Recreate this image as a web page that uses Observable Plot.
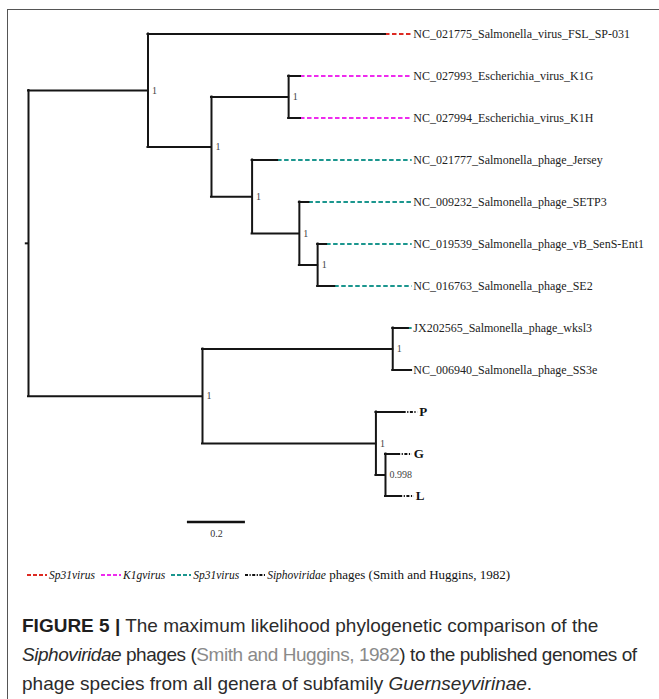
<!DOCTYPE html>
<html><head><meta charset="utf-8">
<script src="https://cdn.jsdelivr.net/npm/d3@7"></script>
<script src="https://cdn.jsdelivr.net/npm/@observablehq/plot@0.6"></script>
<style>
html,body{margin:0;padding:0;background:#fff;width:659px;height:699px;overflow:hidden;position:relative}
#frame{position:absolute;left:6.5px;top:8.5px;width:800px;height:800px;border-left:1.5px solid #555;border-top:1.5px solid #555;box-sizing:border-box}
#chart{position:absolute;left:0;top:0}
#legend{position:absolute;left:27px;top:567px;height:16px;font-family:"Liberation Serif","Times New Roman",serif;font-size:11.5px;color:#111;display:flex;align-items:center;white-space:nowrap}
#legend .item{display:flex;align-items:center;margin-right:6px}
#legend svg{display:block;margin-right:2px}
#legend .suffix{font-size:13px}
#caption{position:absolute;left:22px;top:611px;width:640px;font-family:"Liberation Sans",Arial,sans-serif;font-size:19px;line-height:29px;color:#2b2b2b;white-space:nowrap}
#caption .l{display:block}
#caption .tight{letter-spacing:-0.45px}
#caption b{color:#1e1e1e}
#caption .ref{color:#8a8a8a}
</style></head>
<body>
<div id="frame"></div>
<div id="chart"></div>
<div id="legend"></div>
<div id="caption"><span class="l"><b>FIGURE 5 |</b> The maximum likelihood phylogenetic comparison of the</span><span class="l tight"><i>Siphoviridae</i> phages (<span class="ref">Smith and Huggins, 1982</span>) to the published genomes of</span><span class="l">phage species from all genera of subfamily <i>Guernseyvirinae</i>.</span></div>
<script>
// ---- Tree data (branch positions in substitutions/site from root) ----
const internalIds     = ["n0","n1","n2","n3","n4","n5","n6","n7","n8","n9","n10"];
const internalParent  = [null,"n0","n1","n2","n2","n4","n5","n0","n7","n7","n9"];
const internalDepth   = [0, 0.412, 0.631, 0.897, 0.771, 0.934, 0.997, 0.600, 1.256, 1.198, 1.231];
const internalSupport = ["", "1", "1", "1", "1", "1", "1", "1", "1", "1", "0.998"];

const leafNames = [
  "NC_021775_Salmonella_virus_FSL_SP-031",
  "NC_027993_Escherichia_virus_K1G",
  "NC_027994_Escherichia_virus_K1H",
  "NC_021777_Salmonella_phage_Jersey",
  "NC_009232_Salmonella_phage_SETP3",
  "NC_019539_Salmonella_phage_vB_SenS-Ent1",
  "NC_016763_Salmonella_phage_SE2",
  "JX202565_Salmonella_phage_wksl3",
  "NC_006940_Salmonella_phage_SS3e",
  "P", "G", "L"
];
const leafParent = ["n1","n3","n3","n4","n5","n6","n6","n8","n8","n9","n10","n10"];
const leafDepth  = [1.231, 0.938, 0.938, 0.859, 0.967, 1.028, 1.056, 1.310, 1.321, 1.292, 1.273, 1.280];
const leafGroup  = ["sp31red","k1g","k1g","sp31teal","sp31teal","sp31teal","sp31teal","sp31teal","sp31teal","sipho","sipho","sipho"];

// ---- Legend ----
const legendKeys   = ["sp31red","k1g","sp31teal","sipho"];
const legendLabels = ["Sp31virus","K1gvirus","Sp31virus","Siphoviridae"];
const legendSuffix = ["","","",' phages (Smith and Huggins, 1982)'];
const legendColors = ["#dd2a22","#ee2bee","#1b968e","#111111"];

// ---- Scale bar ----
const scaleBarLength = 0.2;
const scaleBarLabel = "0.2";

// ---- Build tree table ----
const leaves = leafNames.map((name, i) => ({id: "leaf" + i, name, parent: leafParent[i], depth: leafDepth[i], group: leafGroup[i], y: i}));
const internals = internalIds.map((id, i) => ({id, parent: internalParent[i], depth: internalDepth[i], support: internalSupport[i]}));
const all = [...internals, ...leaves];
const byId = new Map(all.map(d => [d.id, d]));
function yOf(node) {
  if (node.y !== undefined) return node.y;
  const kids = all.filter(d => d.parent === node.id);
  const ys = kids.map(yOf);
  node.y1 = d3.min(ys); node.y2 = d3.max(ys);
  node.y = (node.y1 + node.y2) / 2;
  return node.y;
}
internals.forEach(yOf);
const branches = all.filter(d => d.parent).map(d => ({...d, pdepth: byId.get(d.parent).depth}));
const root = internals[0];
const genomeLeaves = leaves.filter(d => d.group !== "sipho");
const siphoLeaves = leaves.filter(d => d.group === "sipho");
const labelX = 1.327, leaderEnd = 1.323, siphoLeader = 0.05;

const serif = "Liberation Serif, Times New Roman, serif";
const chart = Plot.plot({
  width: 659, height: 545,
  marginLeft: 28, marginRight: 51, marginTop: 0, marginBottom: 0,
  style: {background: "transparent", overflow: "visible"},
  x: {domain: [0, 2], axis: null},
  y: {domain: [0, 11], range: [33.5, 495.5], axis: null},
  color: {domain: legendKeys, range: legendColors},
  marks: [
    Plot.ruleY(genomeLeaves, {x1: "depth", x2: leaderEnd, y: "y", stroke: "group", strokeWidth: 2, strokeDasharray: "4.5,2.5"}),
    Plot.ruleY(siphoLeaves, {x1: "depth", x2: d => d.depth + siphoLeader, y: "y", stroke: "group", strokeWidth: 1.8, strokeDasharray: "3,1.5,1.2,1.5"}),
    Plot.ruleY(branches, {x1: "pdepth", x2: "depth", y: "y", stroke: "#151515", strokeWidth: 2, strokeLinecap: "square"}),
    Plot.ruleX(internals, {x: "depth", y1: "y1", y2: "y2", stroke: "#151515", strokeWidth: 2, strokeLinecap: "square"}),
    Plot.ruleY([root], {x1: -0.011, x2: "depth", y: "y", stroke: "#151515", strokeWidth: 2}),
    Plot.text(internals.filter(d => d.support), {x: "depth", y: "y", text: "support", dx: 4, textAnchor: "start", fontFamily: serif, fontSize: 10, fill: "#444"}),
    Plot.text(genomeLeaves, {x: labelX, y: "y", text: "name", textAnchor: "start", fontFamily: serif, fontSize: 12, fill: "#222"}),
    Plot.text(siphoLeaves, {x: d => d.depth + siphoLeader, y: "y", text: "name", dx: 1.5, textAnchor: "start", fontFamily: serif, fontSize: 13, fontWeight: "bold", fill: "#111"}),
    Plot.ruleY([scaleBarLength], {x1: 0.548, x2: d => 0.548 + d, y: 11.62, stroke: "#111", strokeWidth: 2.5}),
    Plot.text([scaleBarLabel], {x: 0.548 + scaleBarLength / 2, y: 11.89, text: d => d, fontFamily: serif, fontSize: 10, fill: "#333"})
  ]
});
document.getElementById("chart").appendChild(chart);

// legend
const lg = d3.select("#legend");
legendKeys.forEach((k, i) => {
  const item = lg.append("div").attr("class", "item");
  const sw = item.append("svg").attr("width", 20).attr("height", 10);
  sw.append("line").attr("x1", 0).attr("x2", 20).attr("y1", 5).attr("y2", 5)
    .attr("stroke", legendColors[i]).attr("stroke-width", 1.8)
    .attr("stroke-dasharray", k === "sipho" ? "3,1.5,1.2,1.5" : "4,2");
  const t = item.append("span");
  t.append("i").text(legendLabels[i]);
  if (legendSuffix[i]) t.append("span").attr("class", "suffix").text(legendSuffix[i]);
});
</script>
</body></html>
